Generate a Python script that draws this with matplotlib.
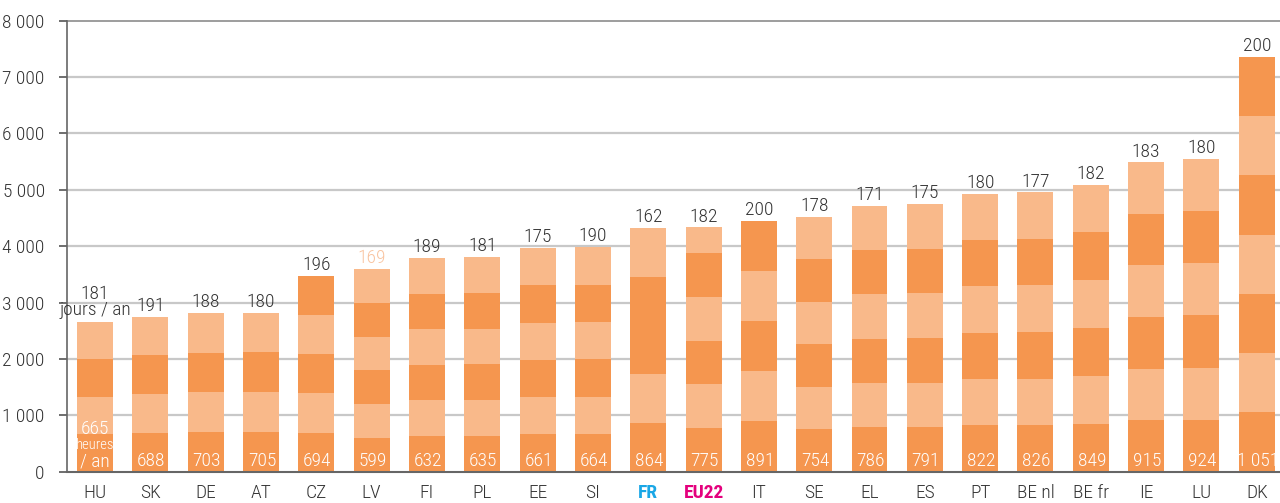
import matplotlib
matplotlib.use("Agg")
import matplotlib.pyplot as plt
from matplotlib import font_manager

# ---- data ----
countries = ["HU", "SK", "DE", "AT", "CZ", "LV", "FI", "PL", "EE", "SI", "FR", "EU22",
             "IT", "SE", "EL", "ES", "PT", "BE nl", "BE fr", "IE", "LU", "DK"]
hours_per_year = [665, 688, 703, 705, 694, 599, 632, 635, 661, 664, 864, 775,
                  891, 754, 786, 791, 822, 826, 849, 915, 924, 1051]
days_per_year = [181, 191, 188, 180, 196, 169, 189, 181, 175, 190, 162, 182,
                 200, 178, 171, 175, 180, 177, 182, 183, 180, 200]
n_years = [4, 4, 4, 4, 5, 6, 6, 6, 6, 6, 5, 5,
           5, 6, 6, 6, 6, 6, 6, 6, 6, 7]
# stacked bands (bottom to top) where they differ from n_years equal blocks
bands_override = {
    "FR": [864, 864, 1728, 864],
    "EU22": [775, 775, 775, 775, 775, 460],
}
yticks = [0, 1000, 2000, 3000, 4000, 5000, 6000, 7000, 8000]
ytick_labels = ["0", "1 000", "2 000", "3 000", "4 000", "5 000", "6 000", "7 000", "8 000"]

# ---- font choice ----
fonts = font_manager.fontManager.ttflist
names = {f.name for f in fonts}
font_kw = {}
chosen = None
for cand in ["Roboto Condensed", "Archivo Narrow", "PT Sans Narrow", "Fira Sans Condensed",
             "Barlow Condensed", "Open Sans Condensed", "Liberation Sans Narrow", "Pragati Narrow"]:
    if cand in names:
        chosen = cand
        break
if chosen is None:
    rc = [f for f in fonts if f.name == "Roboto" and f.stretch == "condensed"]
    if rc:
        chosen = "Roboto"
        font_kw["fontstretch"] = "condensed"
    else:
        chosen = "DejaVu Sans"
        font_kw["fontstretch"] = "condensed"
light_ok = any(f.name == chosen and f.weight in (300, "light") for f in fonts)
if light_ok:
    font_kw["fontweight"] = "light"
plt.rcParams["font.family"] = [chosen, "DejaVu Sans"]

DARK = "#F5964F"
LIGHT = "#F9B98A"
TXT = "#333333"
FS = 14

fig = plt.figure(figsize=(12.8, 5.03), dpi=100)
ax = fig.add_axes([67 / 1280, 31.3 / 503, 1 - 67 / 1280, (471.7 - 20.7) / 503])

x = list(range(len(countries)))
width = 0.65

for i, c in enumerate(countries):
    bands = bands_override.get(c, [hours_per_year[i]] * n_years[i])
    bottom = 0
    for k, h in enumerate(bands):
        ax.bar(i, h, width=width, bottom=bottom, color=DARK if k % 2 == 0 else LIGHT,
               linewidth=0, zorder=3)
        bottom += h
    total = bottom
    dcol = "#F9C4A0" if c == "LV" else TXT
    if c == "HU":
        ax.text(i, total + 45, f"{days_per_year[i]}\njours / an", ha="center", va="bottom",
                fontsize=FS, color=TXT, zorder=4, linespacing=0.85, **font_kw)
    else:
        ax.text(i, total + 30, str(days_per_year[i]), ha="center", va="bottom", fontsize=FS, color=dcol, zorder=4, **font_kw)
    hv = hours_per_year[i]
    hs = f"{hv:,}".replace(",", " ")
    if c == "HU":
        ax.text(i, 95, "/ an", ha="center", va="baseline", fontsize=FS, color="white", zorder=4, **font_kw)
        ax.text(i, 410, "heures", ha="center", va="baseline", fontsize=10.5, color="white", zorder=4, **font_kw)
        ax.text(i, 660, hs, ha="center", va="baseline", fontsize=FS, color="white", zorder=4, **font_kw)
    else:
        ax.text(i + 0.02, 95, hs, ha="center", va="baseline", fontsize=FS, color="white", zorder=4, **font_kw)

ax.set_xlim(-0.506, 21.42)
ax.set_ylim(0, 8000)
ax.set_yticks(yticks)
ax.set_yticklabels(ytick_labels, fontsize=FS, color=TXT, **font_kw)
ax.set_xticks(x)
ax.set_xticklabels(countries, fontsize=FS, color=TXT, **font_kw)
for lab in ax.get_xticklabels():
    if lab.get_text() == "FR":
        lab.set_color("#1AA7E6"); lab.set_fontweight("bold")
    elif lab.get_text() == "EU22":
        lab.set_color("#E4007D"); lab.set_fontweight("bold")

ax.tick_params(axis="x", length=0, pad=9)
ax.tick_params(axis="y", length=6, width=1.2, color="#555555", pad=10)

for y in yticks[1:-1]:
    ax.axhline(y, color="#c8c8c8", lw=1.6, zorder=1)
ax.axhline(8000, color="#8c8c8c", lw=1.2, zorder=1, clip_on=False)

for s in ["top", "right"]:
    ax.spines[s].set_visible(False)
ax.spines["left"].set_color("#666666")
ax.spines["left"].set_linewidth(1.2)
ax.spines["bottom"].set_color("#666666")
ax.spines["bottom"].set_linewidth(1.5)
ax.spines["bottom"].set_zorder(5)

fig.savefig("out.png", dpi=100)
